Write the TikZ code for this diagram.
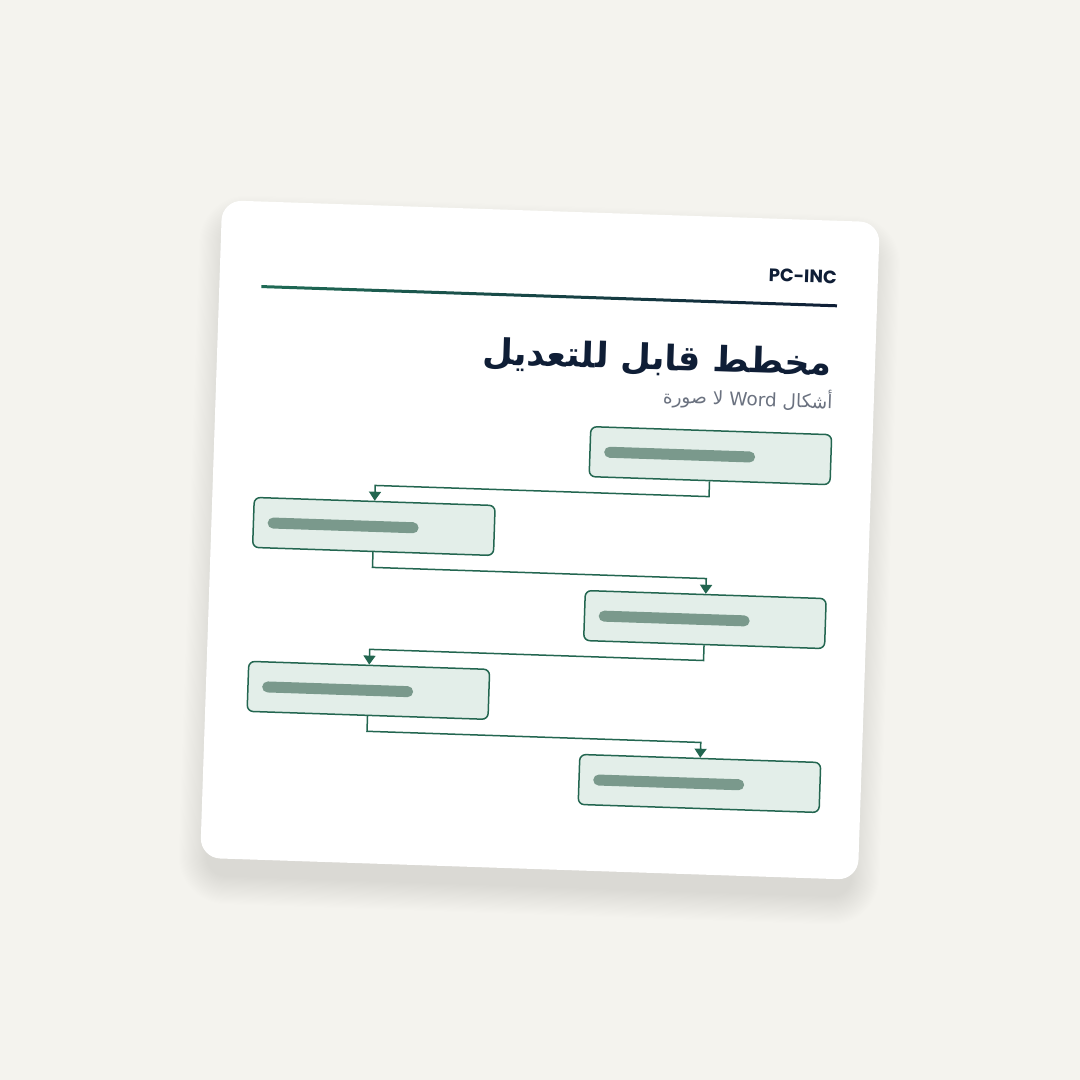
\documentclass[tikz,border=0pt]{standalone}
\usepackage{fontspec}
\setmainfont{DejaVu Sans}
\newfontfamily\arabicfont[Script=Arabic]{DejaVu Sans}
\newfontfamily\latinfont{DejaVu Sans}
\newfontfamily\brandfont{Poppins}
\TeXXeTstate=1
\usetikzlibrary{arrows.meta,positioning}
\definecolor{pagebg}{HTML}{F4F3EE}
\definecolor{navy}{HTML}{0F1E36}
\definecolor{rulegreen}{HTML}{1F6B55}
\definecolor{subgray}{HTML}{6B7280}
\definecolor{boxfill}{HTML}{E3EEE9}
\definecolor{flowgreen}{HTML}{236650}
\definecolor{barfill}{HTML}{7A998C}

\begin{document}
\begin{tikzpicture}[x=1pt,y=-1pt,
  box/.style={draw=flowgreen,fill=boxfill,line width=1.5pt,rounded corners=6pt,minimum width=241pt,minimum height=50pt,inner sep=0pt},
  flow/.style={draw=flowgreen,line width=1.5pt,-{Triangle[width=12pt,length=9pt]}},
  bar/.style={draw=barfill,line width=11pt,line cap=round},
  label/.style={anchor=base east,inner sep=0pt}]

\fill[pagebg] (0,0) rectangle (1080,1080);
\useasboundingbox (0,0) rectangle (1080,1080);

\begin{scope}[rotate around={-1.915:(540,540)},transform shape]
\foreach \i in {0,...,25}
  \fill[black,opacity=0.0032,rounded corners=20+1.1*\i] (217-1.1*\i,233-1.1*\i) rectangle (863+1.1*\i,887+1.1*\i);
\fill[white,rounded corners=20pt] (211,211) rectangle (869,869);

\node[label,text=navy,font=\brandfont\bfseries\fontsize{18}{20}\selectfont] (brand) at (828,274) {PC-INC};
\shade[left color=rulegreen,right color=navy] (253,294.5) rectangle (829,297.5);
\node[label,text=navy,font=\arabicfont\bfseries\fontsize{35}{40}\selectfont] (title) at (826,366) {\beginR مخطط قابل للتعديل\endR};
\node[label,text=subgray,font=\arabicfont\fontsize{18.5}{22}\selectfont] (subtitle) at (828,399) {\beginR أشكال \beginL{\latinfont Word}\endL{} لا صورة\endR};

\node[box] (b1) at (707.5,450) {};
\node[box] (b2) at (373.5,532) {};
\node[box] (b3) at (707.5,614) {};
\node[box] (b4) at (373.5,696) {};
\node[box] (b5) at (707.5,778) {};

\draw[bar] ([xshift=20.5pt]b1.west) -- ++(140,0);
\draw[bar] ([xshift=20.5pt]b2.west) -- ++(140,0);
\draw[bar] ([xshift=20.5pt]b3.west) -- ++(140,0);
\draw[bar] ([xshift=20.5pt]b4.west) -- ++(140,0);
\draw[bar] ([xshift=20.5pt]b5.west) -- ++(140,0);

\coordinate (e1a) at (707.5,491);
\coordinate (e1b) at (373.5,491);
\coordinate (e2a) at (373.5,573);
\coordinate (e2b) at (707.5,573);
\coordinate (e3a) at (707.5,655);
\coordinate (e3b) at (373.5,655);
\coordinate (e4a) at (373.5,737);
\coordinate (e4b) at (707.5,737);

\draw[flow] (b1.south) -- (e1a) -- (e1b) -- (b2.north);
\draw[flow] (b2.south) -- (e2a) -- (e2b) -- (b3.north);
\draw[flow] (b3.south) -- (e3a) -- (e3b) -- (b4.north);
\draw[flow] (b4.south) -- (e4a) -- (e4b) -- (b5.north);
\end{scope}
\end{tikzpicture}
\end{document}
